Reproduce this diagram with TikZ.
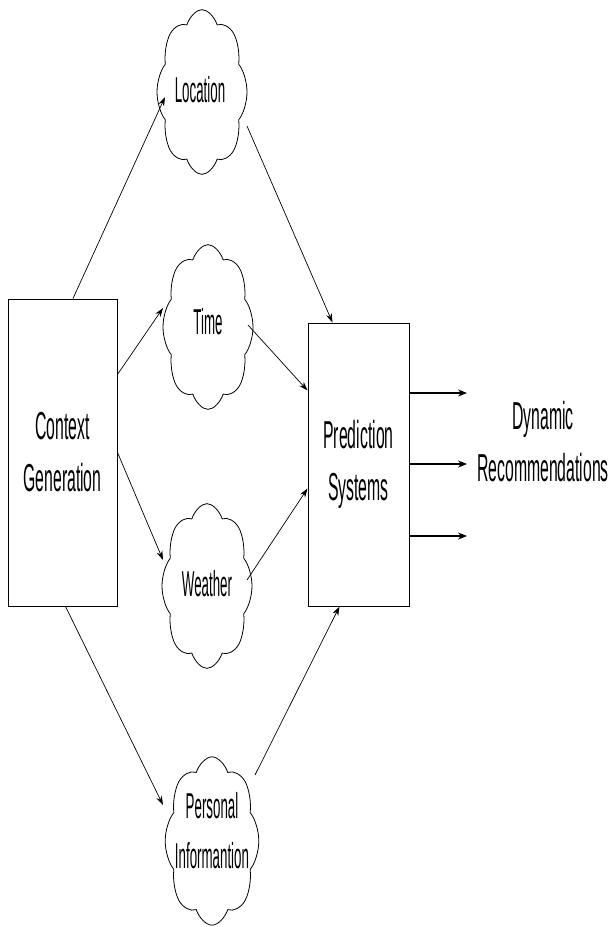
\documentclass[tikz,border=0pt]{standalone}
\usepackage{fontspec}
\setmainfont{Liberation Sans}
\newfontfamily\mainf[FakeStretch=0.405]{Liberation Sans}
\newfontfamily\cloudf[FakeStretch=0.37]{Liberation Sans}
\usetikzlibrary{shapes.symbols,arrows.meta,calc}
\begin{document}
\begin{tikzpicture}[x=1pt,y=-1pt,
  box/.style={draw, line width=1pt, inner sep=0, font=\mainf\fontsize{39}{52}\selectfont, align=center},
  cloudbox/.style={draw, cloud, cloud puffs=8, cloud puff arc=115, aspect=1,
    minimum width=90pt, minimum height=90pt, inner sep=0, line width=0.8pt},
  bigtxt/.style={font=\mainf\fontsize{39}{52}\selectfont, align=center, inner sep=0},
  smalltxt/.style={font=\cloudf\fontsize{36}{50}\selectfont, align=center, inner sep=0},
  arr/.style={-{Stealth[length=9pt,width=6pt]}, line width=0.7pt},
  outarr/.style={-{Stealth[length=9pt,width=7pt]}, line width=1.4pt}]
\useasboundingbox (0,0) rectangle (611,927);
% boxes
\node[box, minimum width=109pt, minimum height=307pt] (ctx) at (62.5,452.5) {Context\\Generation};
\node[box, minimum width=101pt, minimum height=283pt] (pred) at (358.5,464.5) {Prediction\\Systems};
% clouds
\begin{scope}[shift={(202,92)}, yscale=1.83, transform shape]
  \node[cloudbox] (loc) at (0,0) {};
\end{scope}
\begin{scope}[shift={(208,327)}, yscale=1.83, transform shape]
  \node[cloudbox] (time) at (0,0) {};
\end{scope}
\begin{scope}[shift={(207,586)}, yscale=1.83, transform shape]
  \node[cloudbox] (wea) at (0,0) {};
\end{scope}
\begin{scope}[shift={(212,841)}, xscale=1.04, yscale=1.87, transform shape]
  \node[cloudbox] (pers) at (0,0) {};
\end{scope}
\node[smalltxt] (loct) at (200,90) {Location};
\node[smalltxt] (timet) at (208,322) {Time};
\node[smalltxt] (weat) at (207,584) {Weather};
\node[smalltxt] (perst) at (212,831) {Personal\\Informantion};
% output text
\node[bigtxt] (dyn) at (543,442) {Dynamic\\Recommendations};
% arrows into clouds
\draw[arr] ([xshift=10.5pt]ctx.north) -- ($(loc.center)+(-37,5)$);
\draw[arr] ($(ctx.north east)+(0,76)$) -- ($(time.center)+(-45,-19)$);
\draw[arr] ($(ctx.north east)+(0,154)$) -- ($(wea.center)+(-44,-26)$);
\draw[arr] ([xshift=3pt]ctx.south) -- ($(pers.center)+(-49,-36)$);
% arrows into prediction
\draw[arr] ($(loc.center)+(45,34)$) -- ($(pred.north west)+(25,0)$);
\draw[arr] ($(time.center)+(40,-2)$) -- ($(pred.north west)+(0,68)$);
\draw[arr] ($(wea.center)+(40,-6)$) -- ($(pred.north west)+(0,166)$);
\draw[arr] ($(pers.center)+(43,-66)$) -- ($(pred.south west)+(32,0)$);
% outputs
\coordinate (o1) at (467,393);
\coordinate (o2) at (467,464);
\coordinate (o3) at (467,536);
\draw[outarr] (pred.east |- o1) -- (o1);
\draw[outarr] (pred.east |- o2) -- (o2);
\draw[outarr] (pred.east |- o3) -- (o3);
\end{tikzpicture}
\end{document}
